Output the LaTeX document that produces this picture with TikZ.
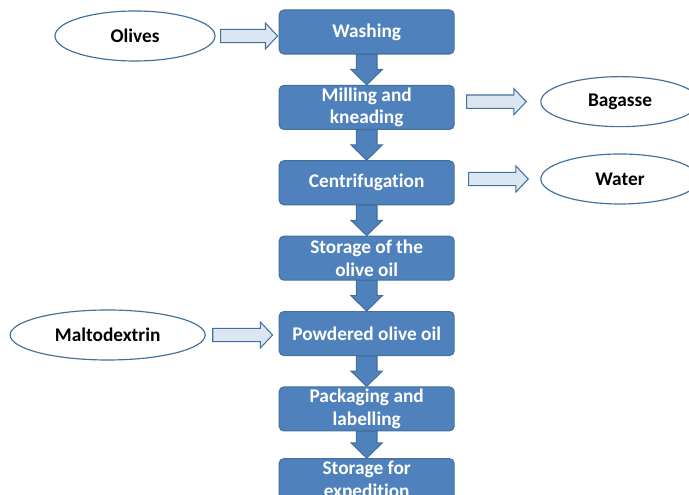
\documentclass[tikz,border=0pt]{standalone}
\usepackage{fontspec}
\setmainfont{Carlito}[Ligatures=NoCommon]
\usepackage{tikz}
\usetikzlibrary{positioning,calc,shapes.geometric}

\definecolor{boxblue}{HTML}{4F81BD}
\definecolor{edgeblue}{HTML}{41719C}
\definecolor{paleblue}{HTML}{DCE6F2}

\tikzset{
  stepbox/.style={draw=edgeblue,fill=boxblue,rounded corners=4pt,line width=0.9pt,
    minimum width=5.25cm,minimum height=1.32cm,align=center,text=white,
    font=\fontsize{16.5}{19.5}\selectfont\bfseries,inner sep=1pt},
  inout/.style={draw=edgeblue,fill=white,ellipse,line width=1pt,minimum height=1.5cm,
    font=\fontsize{16.5}{19.5}\selectfont\bfseries},
  sidearrow/.style={draw=edgeblue,fill=paleblue,line width=0.9pt,line join=miter},
  downarrow/.style={draw=edgeblue,fill=boxblue,line width=0.9pt,line join=miter}
}

% block arrow to the right: tail, tip
\newcommand{\hblock}[2]{%
  \draw[sidearrow] ($(#1)+(0,0.2)$) -- ($(#2)+(-0.37,0.2)$) -- ($(#2)+(-0.37,0.39)$)
    -- (#2) -- ($(#2)+(-0.37,-0.39)$) -- ($(#2)+(-0.37,-0.2)$) -- ($(#1)+(0,-0.2)$) -- cycle;}
% block arrow downwards: tail, tip
\newcommand{\vblock}[2]{%
  \draw[downarrow] ($(#1)+(-0.31,0)$) -- ($(#2)+(-0.31,0.46)$) -- ($(#2)+(-0.47,0.46)$)
    -- (#2) -- ($(#2)+(0.47,0.46)$) -- ($(#2)+(0.31,0.46)$) -- ($(#1)+(0.31,0)$) -- cycle;}

\begin{document}
\begin{tikzpicture}[node distance=0.91cm]
\useasboundingbox (0,0) rectangle (20.67,14.85);

% process steps
\node[stepbox] (wash) at (11.0,13.89) {Washing};
\node[stepbox,below=of wash] (mill) {Milling and\\kneading};
\node[stepbox,below=of mill] (centri) {Centrifugation};
\node[stepbox,below=of centri] (store) {Storage of the\\olive oil};
\node[stepbox,below=of store] (powder) {Powdered olive oil};
\node[stepbox,below=of powder] (pack) {Packaging and\\labelling};
\node[stepbox,below=0.8cm of pack] (expe) {Storage for\\expedition};

% inputs and outputs
\node[inout,minimum width=4.8cm] (olives) at (4.05,13.77) {Olives};
\node[inout,minimum width=4.75cm] (bagasse) at (18.6,11.8) {Bagasse};
\node[inout,minimum width=4.75cm] (water) at (18.6,9.48) {Water};
\node[inout,minimum width=5.85cm] (malto) at (3.23,4.8) {Maltodextrin};

% down arrows
\vblock{wash.south}{mill.north}
\vblock{mill.south}{centri.north}
\vblock{centri.south}{store.north}
\vblock{store.south}{powder.north}
\vblock{powder.south}{pack.north}
\vblock{pack.south}{expe.north}

% side arrows
\coordinate (oT) at ($(olives.east)+(0.15,0)$);
\coordinate (oH) at ($(wash.west |- olives.east)+(-0.03,0)$);
\hblock{oT}{oH}
\coordinate (bT) at ($(mill.east |- bagasse.west)+(0.36,0)$);
\coordinate (bH) at ($(bagasse.west)+(-0.42,0)$);
\hblock{bT}{bH}
\coordinate (wT) at ($(centri.east |- water.west)+(0.42,0)$);
\coordinate (wH) at ($(water.west)+(-0.36,0)$);
\hblock{wT}{wH}
\coordinate (mT) at ($(malto.east)+(0.21,0)$);
\coordinate (mH) at ($(powder.west |- malto.east)+(-0.18,0)$);
\hblock{mT}{mH}

\end{tikzpicture}
\end{document}
